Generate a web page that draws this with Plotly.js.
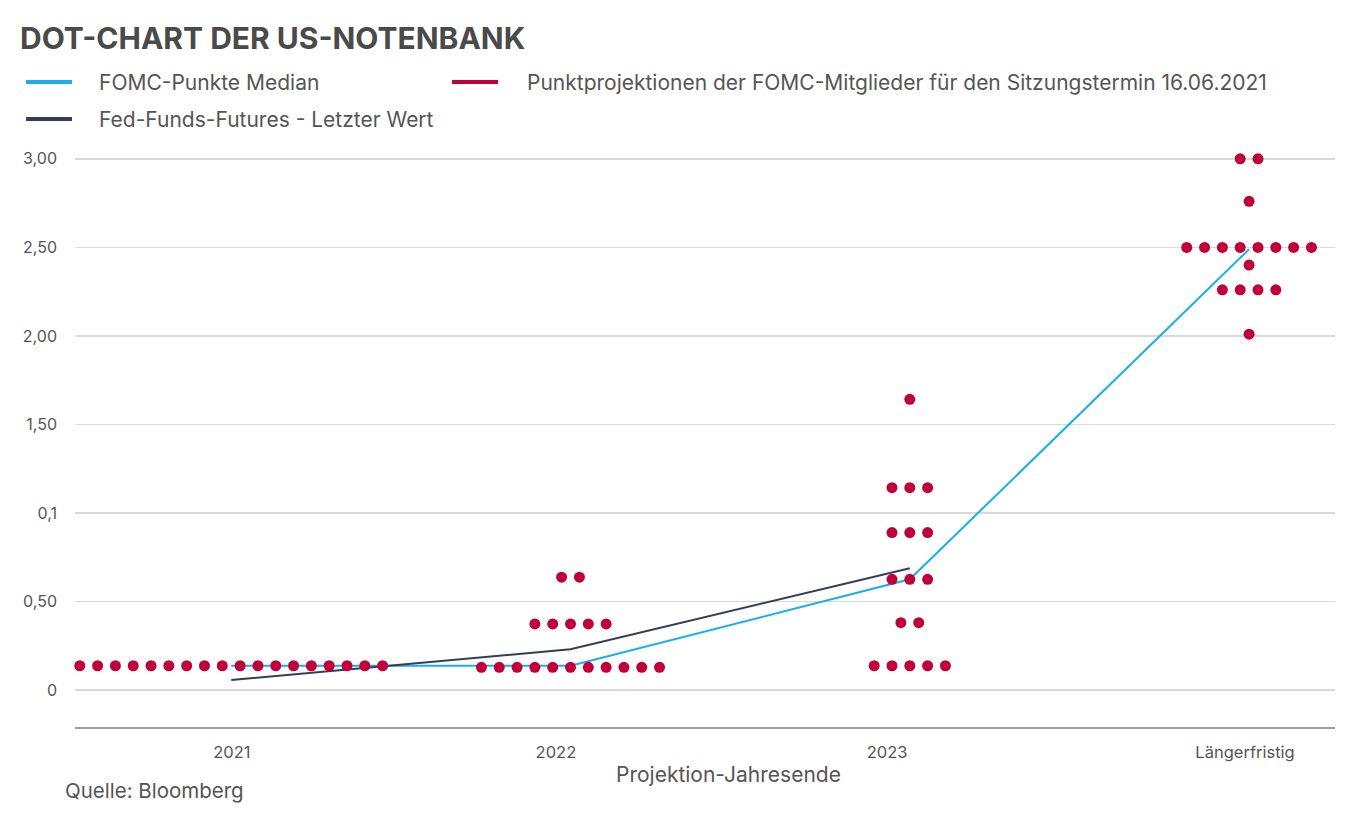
<!DOCTYPE html>
<html>
<head>
<meta charset="utf-8">
<script src="https://cdn.plot.ly/plotly-3.0.1.min.js"></script>
<style>html,body{margin:0;padding:0;background:#fff;}#chart{width:1350px;height:819px;}</style>
</head>
<body>
<div id="chart"></div>
<script>
// ---------- data ----------
const categories = ['2021', '2022', '2023', 'Längerfristig'];

// FOMC dot projections: level (in %) and number of dots at that level
const dotLevels2021 = [0.137];
const dotCounts2021 = [18];
const dotLevels2022 = [0.128, 0.373, 0.637];
const dotCounts2022 = [11, 5, 2];
const dotLevels2023 = [0.137, 0.380, 0.625, 0.889, 1.143, 1.642];
const dotCounts2023 = [5, 2, 3, 3, 3, 1];
const dotLevelsLong = [2.01, 2.26, 2.40, 2.50, 2.76, 3.00];
const dotCountsLong = [1, 4, 1, 8, 1, 2];

const medianValues = [0.137, 0.137, 0.625, 2.49];
const futuresValues = [0.056, 0.23, 0.688];

const yTickVals = [0, 0.5, 1, 1.5, 2, 2.5, 3];
const yTickText = ['0', '0,50', '0,1', '1,50', '2,00', '2,50', '3,00'];

// ---------- layout constants ----------
const W = 1350, H = 819;
const M = {l: 75, r: 15, t: 150, b: 92};
const PW = W - M.l - M.r, PH = H - M.t - M.b;
const px = x => (x - M.l) / PW;
const py = y => (H - M.b - y) / PH;
const dotStep = 0.0525;              // horizontal spacing of dots (category units)
const xTickPos = [0.002, 0.957, 1.933, 2.988];
const FONT = 'Inter, "Open Sans", sans-serif';
const TXT = '#555555';
const RED = '#c1003b', BLUE = '#19aef2', NAVY = '#343d5c';

// ---------- build dot trace ----------
const dotGroups = [
  [dotLevels2021, dotCounts2021],
  [dotLevels2022, dotCounts2022],
  [dotLevels2023, dotCounts2023],
  [dotLevelsLong, dotCountsLong]
];
const dotX = [], dotY = [];
dotGroups.forEach(([levels, counts], ci) => {
  levels.forEach((lv, r) => {
    const n = counts[r];
    for (let j = 0; j < n; j++) {
      dotX.push(ci + (j - (n - 1) / 2) * dotStep);
      dotY.push(lv);
    }
  });
});
const catIdx = categories.map((c, i) => i);

const traces = [
  {
    x: catIdx, y: medianValues, type: 'scatter', mode: 'lines',
    line: {color: BLUE, width: 2}, name: 'FOMC-Punkte Median', hoverinfo: 'y'
  },
  {
    x: catIdx.slice(0, futuresValues.length), y: futuresValues, type: 'scatter', mode: 'lines',
    line: {color: NAVY, width: 2}, name: 'Fed-Funds-Futures - Letzter Wert', hoverinfo: 'y'
  },
  {
    x: dotX, y: dotY, type: 'scatter', mode: 'markers', cliponaxis: false,
    marker: {color: RED, size: 11, line: {width: 0}},
    name: 'Punktprojektionen der FOMC-Mitglieder für den Sitzungstermin 16.06.2021', hoverinfo: 'y'
  }
];

// ---------- manual legend ----------
const legendItems = [
  {label: 'FOMC-Punkte Median', color: BLUE, x0: 26, x1: 72, tx: 97, y: 82},
  {label: 'Punktprojektionen der FOMC-Mitglieder für den Sitzungstermin 16.06.2021', color: RED, x0: 452, x1: 498, tx: 525, y: 82},
  {label: 'Fed-Funds-Futures - Letzter Wert', color: NAVY, x0: 26, x1: 72, tx: 97, y: 119}
];
const shapes = legendItems.map(it => ({
  type: 'line', xref: 'paper', yref: 'paper',
  x0: px(it.x0), x1: px(it.x1), y0: py(it.y), y1: py(it.y),
  line: {color: it.color, width: 4}
}));
const annotations = legendItems.map(it => ({
  text: it.label, xref: 'paper', yref: 'paper', x: px(it.tx), y: py(it.y),
  xanchor: 'left', yanchor: 'middle', showarrow: false,
  font: {family: FONT, size: 21, color: TXT}
}));
annotations.push({
  text: 'Projektion-Jahresende', xref: 'paper', yref: 'paper',
  x: px(728), y: py(774), xanchor: 'center', yanchor: 'middle', showarrow: false,
  font: {family: FONT, size: 21, color: TXT}
});
annotations.push({
  text: 'Quelle: Bloomberg', xref: 'paper', yref: 'paper',
  x: px(63), y: py(790), xanchor: 'left', yanchor: 'middle', showarrow: false,
  font: {family: FONT, size: 20.5, color: TXT}
});

const layout = {
  width: W, height: H,
  margin: M,
  paper_bgcolor: '#ffffff', plot_bgcolor: '#ffffff',
  showlegend: false,
  font: {family: FONT, color: TXT},
  title: {
    text: '<b>DOT-CHART DER US-NOTENBANK</b>',
    xref: 'container', yref: 'container', x: 20 / W, y: 1 - 38 / H,
    xanchor: 'left', yanchor: 'middle',
    font: {family: FONT, size: 30, color: '#4a4a4a'}
  },
  xaxis: {
    range: [(M.l - 231.2) / 339.3, (W - M.r - 231.2) / 339.3],
    tickvals: xTickPos, ticktext: categories,
    showgrid: false, zeroline: false,
    showline: true, linecolor: '#9e9e9e', linewidth: 2,
    ticks: '', ticklabelstandoff: 9,
    tickfont: {family: FONT, size: 16.5, color: TXT},
    fixedrange: true
  },
  yaxis: {
    range: [-0.209, 3.05],
    tickvals: yTickVals, ticktext: yTickText,
    showgrid: true, gridcolor: '#d9d9d9', gridwidth: 1.5,
    zeroline: false, showline: false,
    ticks: '', ticklabelstandoff: 17,
    tickfont: {family: FONT, size: 16, color: TXT},
    fixedrange: true
  },
  shapes: shapes,
  annotations: annotations
};

Plotly.newPlot('chart', traces, layout, {displayModeBar: false, staticPlot: true});
</script>
</body>
</html>
